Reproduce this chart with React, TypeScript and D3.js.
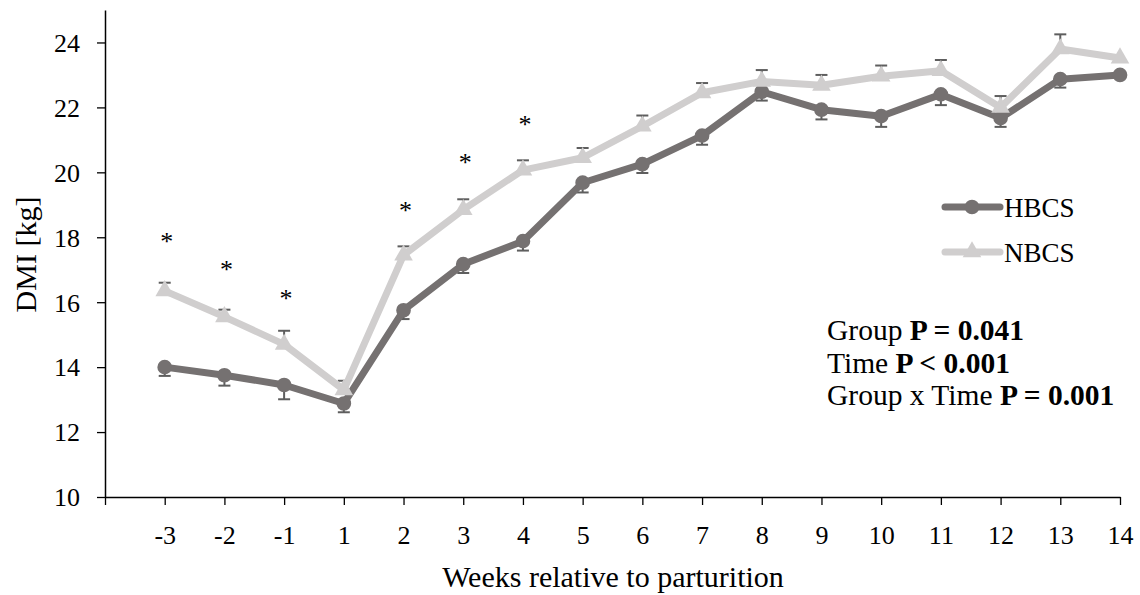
import React, { useEffect, useRef } from 'react';
import * as d3 from 'd3';

// weeks relative to parturition
const weeks = ['-3', '-2', '-1', '1', '2', '3', '4', '5', '6', '7', '8', '9', '10', '11', '12', '13', '14'];

const hbcs = [14.0, 13.75, 13.45, 12.88, 15.75, 17.17, 17.88, 19.68, 20.25, 21.13, 22.48, 21.93, 21.73, 22.4, 21.67, 22.87, 23.0];
// no error bar visible at week 14
const hbcsSE = [0.27, 0.32, 0.44, 0.27, 0.27, 0.27, 0.29, 0.3, 0.27, 0.28, 0.27, 0.3, 0.33, 0.33, 0.27, 0.26, 0];

const nbcs = [16.35, 15.55, 14.7, 13.3, 17.45, 18.85, 20.07, 20.45, 21.42, 22.45, 22.8, 22.68, 22.96, 23.13, 22.0, 23.8, 23.52];
const nbcsSE = [0.25, 0.22, 0.42, 0.28, 0.27, 0.32, 0.3, 0.3, 0.33, 0.3, 0.35, 0.32, 0.33, 0.33, 0.35, 0.45, 0];

// significance markers (week, height in kg)
const starWeeks = ['-3', '-2', '-1', '2', '3', '4'];
const starLevels = [18.03, 17.17, 16.28, 18.98, 20.46, 21.63];

const yTicks = [10, 12, 14, 16, 18, 20, 22, 24];

const stats = [
  { label: 'Group ', value: 'P = 0.041' },
  { label: 'Time ', value: 'P < 0.001' },
  { label: 'Group x Time ', value: 'P = 0.001' },
];

const DARK = '#757171';
const LIGHT = '#d0cece';
const BAR = '#5e5e5e';
const FONT = '"Liberation Serif", "Times New Roman", serif';
const CIRCLE_SIZE = 170;
const TRI_SIZE = 150;

const App = () => {
  const svgRef = useRef(null);
  const width = 1140;
  const height = 595;

  useEffect(() => {
    const svg = d3.select(svgRef.current);
    svg.selectAll('*').remove();

    const x0 = 105, x1 = 1120, yTop = 10, yBottom = 497;

    // index 0 is an empty slot before the first week (as in the original)
    const x = d3.scaleLinear().domain([0, weeks.length]).range([x0, x1]);
    const xw = (w) => x(weeks.indexOf(w) + 1);
    const y = d3.scaleLinear().domain([10, 25]).range([yBottom, yTop]);

    // axes
    const yAxis = svg.append('g')
      .attr('transform', `translate(${x0},0)`)
      .call(d3.axisLeft(y).tickValues(yTicks).tickSize(8).tickSizeOuter(0));
    yAxis.select('.domain').attr('stroke', '#000').attr('stroke-width', 1.5);
    yAxis.selectAll('.tick line').attr('stroke', '#000').attr('stroke-width', 1.3);
    yAxis.selectAll('.tick text')
      .attr('font-family', FONT).attr('font-size', 26).attr('fill', '#000')
      .attr('x', -25).attr('dy', '0.34em');

    const xAxis = svg.append('g')
      .attr('transform', `translate(0,${yBottom})`)
      .call(d3.axisBottom(x).tickValues(d3.range(0, weeks.length + 1)).tickSize(8).tickSizeOuter(0)
        .tickFormat((i) => (i === 0 ? '' : weeks[i - 1])));
    xAxis.select('.domain').attr('stroke', '#000').attr('stroke-width', 1.5);
    xAxis.selectAll('.tick line').attr('stroke', '#000').attr('stroke-width', 1.3);
    xAxis.selectAll('.tick text')
      .attr('font-family', FONT).attr('font-size', 26).attr('fill', '#000')
      .attr('y', 47).attr('dy', 0);

    // axis titles
    svg.append('text')
      .attr('transform', `translate(36,${(yTop + yBottom) / 2 + 1}) rotate(-90)`)
      .attr('text-anchor', 'middle')
      .attr('font-family', FONT).attr('font-size', 30)
      .text('DMI [kg]');

    svg.append('text')
      .attr('x', 613).attr('y', 587)
      .attr('text-anchor', 'middle')
      .attr('font-family', FONT).attr('font-size', 30)
      .text('Weeks relative to parturition');

    const line = d3.line().x((d, i) => x(i + 1)).y((d) => y(d));

    const drawSeries = (vals, se, color, up, marker, size) => {
      const g = svg.append('g');
      // error bars (one-sided)
      vals.forEach((v, i) => {
        if (!se[i]) return;
        const cx = x(i + 1);
        const end = up ? v + se[i] : v - se[i];
        g.append('line').attr('x1', cx).attr('x2', cx).attr('y1', y(v)).attr('y2', y(end))
          .attr('stroke', BAR).attr('stroke-width', 2);
        g.append('line').attr('x1', cx - 6).attr('x2', cx + 6).attr('y1', y(end)).attr('y2', y(end))
          .attr('stroke', BAR).attr('stroke-width', 2);
      });
      g.append('path').datum(vals)
        .attr('d', line)
        .attr('fill', 'none')
        .attr('stroke', color)
        .attr('stroke-width', 7)
        .attr('stroke-linejoin', 'round');
      g.selectAll('.m').data(vals).enter().append('path')
        .attr('transform', (d, i) => `translate(${x(i + 1)},${y(d)})`)
        .attr('d', d3.symbol().type(marker).size(size))
        .attr('fill', color);
    };

    drawSeries(hbcs, hbcsSE, DARK, false, d3.symbolCircle, CIRCLE_SIZE);
    drawSeries(nbcs, nbcsSE, LIGHT, true, d3.symbolTriangle, TRI_SIZE);

    // asterisks
    svg.append('g').selectAll('text').data(starWeeks).enter().append('text')
      .attr('x', (w) => xw(w) + 2)
      .attr('y', (w, i) => y(starLevels[i]) + 14)
      .attr('text-anchor', 'middle')
      .attr('font-family', FONT).attr('font-size', 26)
      .text('*');

    // legend
    const legend = [
      { name: 'HBCS', color: DARK, marker: d3.symbolCircle, size: CIRCLE_SIZE },
      { name: 'NBCS', color: LIGHT, marker: d3.symbolTriangle, size: TRI_SIZE },
    ];
    legend.forEach((l, i) => {
      const ly = 207 + i * 45;
      svg.append('line').attr('x1', 945).attr('x2', 1000).attr('y1', ly).attr('y2', ly)
        .attr('stroke', l.color).attr('stroke-width', 7).attr('stroke-linecap', 'round');
      svg.append('path').attr('transform', `translate(972,${ly})`)
        .attr('d', d3.symbol().type(l.marker).size(l.size)).attr('fill', l.color);
      svg.append('text').attr('x', 1004).attr('y', ly + 10)
        .attr('font-family', FONT).attr('font-size', 27)
        .text(l.name);
    });

    // statistics
    stats.forEach((s, i) => {
      const t = svg.append('text').attr('x', 827).attr('y', 340 + i * 32.5)
        .attr('font-family', FONT).attr('font-size', 29.5);
      t.append('tspan').text(s.label);
      t.append('tspan').attr('font-weight', 'bold').text(s.value);
    });
  }, []);

  return (
    <svg ref={svgRef} width={width} height={height}
      style={{ position: 'absolute', left: 0, top: 0, background: '#fff' }} />
  );
};

export default App;
